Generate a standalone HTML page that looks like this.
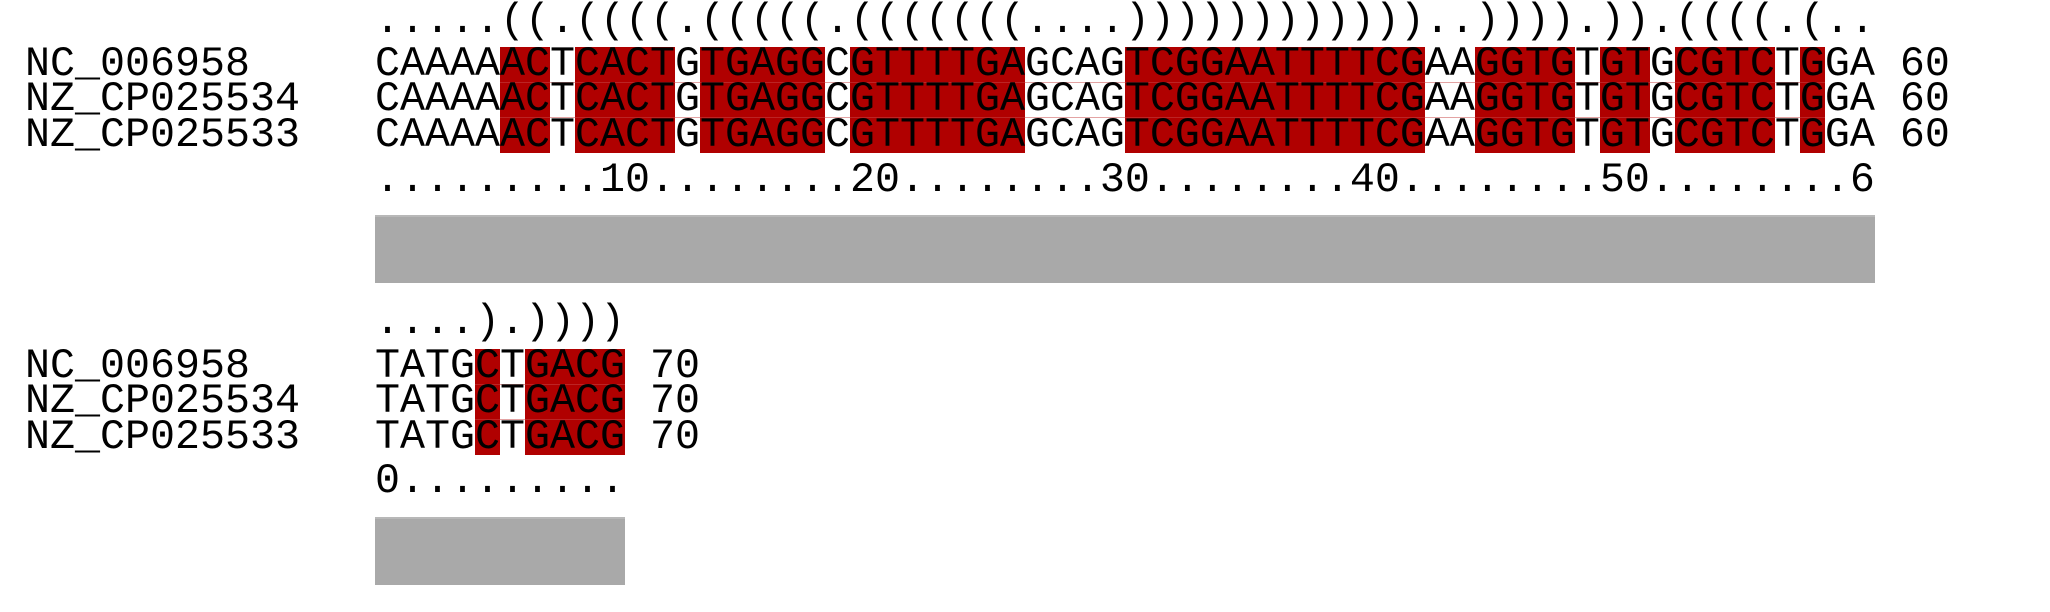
<!DOCTYPE html>
<html><head><meta charset="utf-8"><style>
html,body{margin:0;padding:0;background:#fff;}
#c{position:relative;width:2050px;height:612px;overflow:hidden;background:#fff;}
.t{position:absolute;font-family:"Liberation Mono",monospace;font-size:41.667px;line-height:35.33px;height:35.33px;white-space:pre;color:#000;}
.r{position:absolute;background:#b00000;}
.s{position:absolute;height:1px;background:#c84848;}
.g{position:absolute;background:#a9a9a9;border-top:2px solid #b8b8b8;box-sizing:border-box;}
</style></head><body><div id="c">
<!-- block 1 red boxes -->
<div class="r" style="left:500px;top:47px;width:50px;height:106px"></div>
<div class="r" style="left:575px;top:47px;width:100px;height:106px"></div>
<div class="r" style="left:700px;top:47px;width:125px;height:106px"></div>
<div class="r" style="left:850px;top:47px;width:175px;height:106px"></div>
<div class="r" style="left:1125px;top:47px;width:300px;height:106px"></div>
<div class="r" style="left:1475px;top:47px;width:100px;height:106px"></div>
<div class="r" style="left:1600px;top:47px;width:50px;height:106px"></div>
<div class="r" style="left:1675px;top:47px;width:100px;height:106px"></div>
<div class="r" style="left:1800px;top:47px;width:25px;height:106px"></div>
<div class="s" style="left:500px;top:82px;width:1325px;opacity:.5"></div>
<div class="s" style="left:500px;top:117px;width:1325px;opacity:.5"></div>
<div class="t" style="left:375px;top:4px">.....((.((((.(((((.(((((((....))))))))))))..)))).)).((((.(..</div>
<div class="t" style="left:25px;top:47px">NC_006958</div>
<div class="t" style="left:25px;top:82.3px">NZ_CP025534</div>
<div class="t" style="left:25px;top:117.6px">NZ_CP025533</div>
<div class="t" style="left:375px;top:47px">CAAAAACTCACTGTGAGGCGTTTTGAGCAGTCGGAATTTTCGAAGGTGTGTGCGTCTGGA 60</div>
<div class="t" style="left:375px;top:82.3px">CAAAAACTCACTGTGAGGCGTTTTGAGCAGTCGGAATTTTCGAAGGTGTGTGCGTCTGGA 60</div>
<div class="t" style="left:375px;top:117.6px">CAAAAACTCACTGTGAGGCGTTTTGAGCAGTCGGAATTTTCGAAGGTGTGTGCGTCTGGA 60</div>
<div class="t" style="left:375px;top:163px">.........10........20........30........40........50........6</div>
<div class="g" style="left:375px;top:215px;width:1500px;height:68px"></div>
<!-- block 2 -->
<div class="r" style="left:475px;top:349px;width:25px;height:106px"></div>
<div class="r" style="left:525px;top:349px;width:100px;height:106px"></div>
<div class="s" style="left:475px;top:384px;width:150px;opacity:.5"></div>
<div class="s" style="left:475px;top:419px;width:150px;opacity:.5"></div>
<div class="t" style="left:375px;top:305px">....).))))</div>
<div class="t" style="left:25px;top:349px">NC_006958</div>
<div class="t" style="left:25px;top:384.3px">NZ_CP025534</div>
<div class="t" style="left:25px;top:419.6px">NZ_CP025533</div>
<div class="t" style="left:375px;top:349px">TATGCTGACG 70</div>
<div class="t" style="left:375px;top:384.3px">TATGCTGACG 70</div>
<div class="t" style="left:375px;top:419.6px">TATGCTGACG 70</div>
<div class="t" style="left:375px;top:464px">0.........</div>
<div class="g" style="left:375px;top:517px;width:250px;height:68px"></div>
</div></body></html>
